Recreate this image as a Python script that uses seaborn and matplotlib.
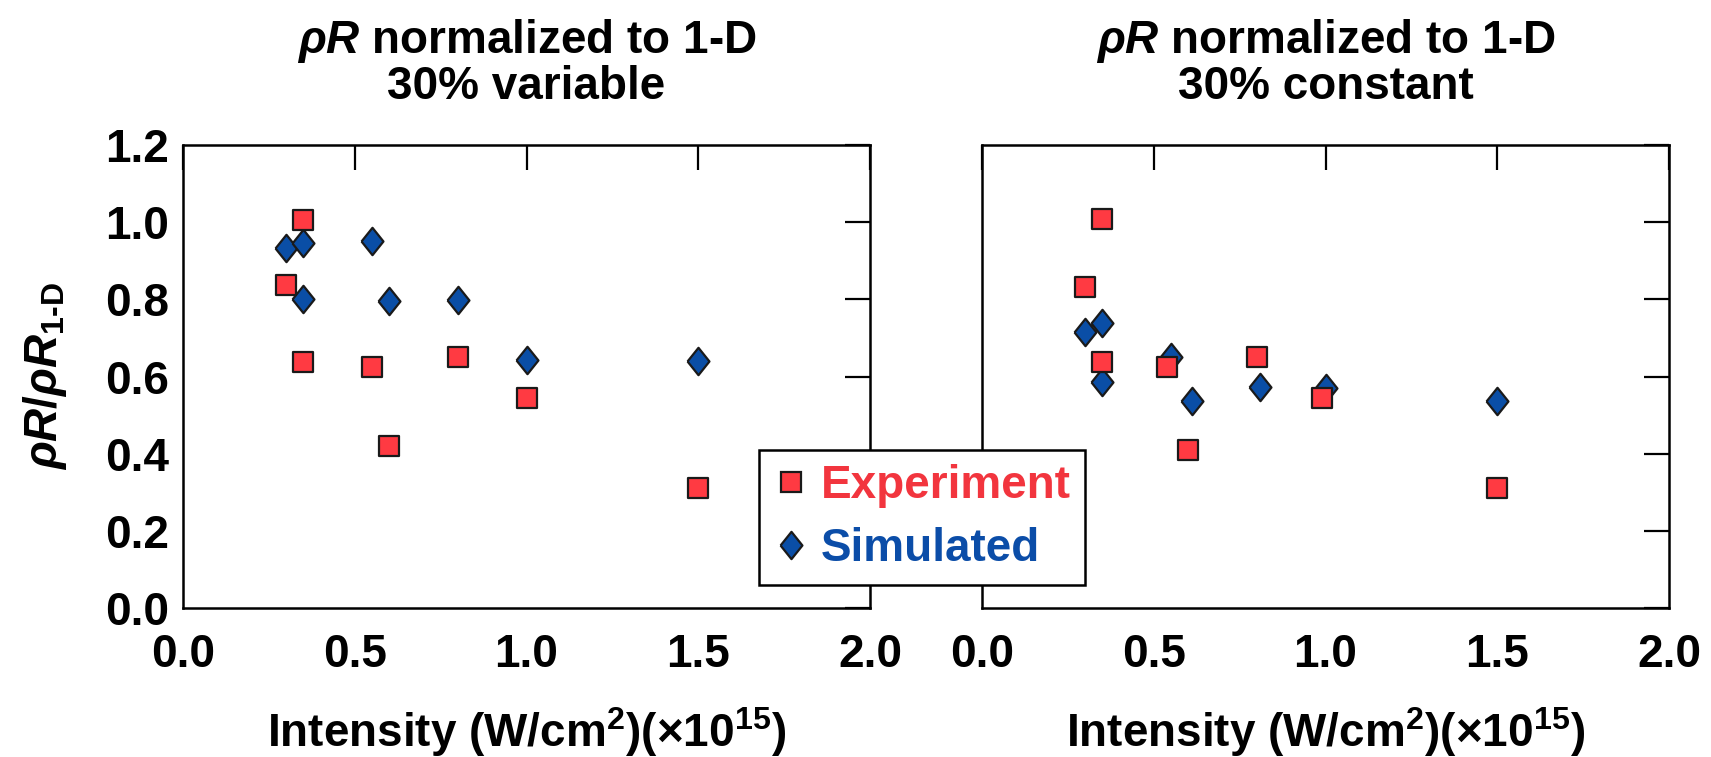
import numpy as np
import pandas as pd
import matplotlib
matplotlib.use("Agg")
import matplotlib.pyplot as plt
import seaborn as sns
from matplotlib.ticker import FormatStrFormatter
from matplotlib.lines import Line2D

# ---------------- data ----------------
panel_titles = [r"$\rho R$ normalized to 1-D" + "\n30% variable",
                r"$\rho R$ normalized to 1-D" + "\n30% constant"]

# left panel (30% variable)
var_exp_x = [0.30, 0.35, 0.35, 0.55, 0.60, 0.80, 1.00, 1.50]
var_exp_y = [0.837, 1.006, 0.638, 0.625, 0.421, 0.650, 0.543, 0.312]
var_sim_x = [0.30, 0.35, 0.35, 0.55, 0.60, 0.80, 1.00, 1.50]
var_sim_y = [0.932, 0.945, 0.800, 0.951, 0.795, 0.797, 0.643, 0.639]

# right panel (30% constant)
con_exp_x = [0.30, 0.35, 0.35, 0.54, 0.60, 0.80, 0.99, 1.50]
con_exp_y = [0.831, 1.008, 0.638, 0.625, 0.410, 0.651, 0.544, 0.312]
con_sim_x = [0.30, 0.35, 0.35, 0.55, 0.61, 0.81, 1.00, 1.50]
con_sim_y = [0.715, 0.738, 0.587, 0.651, 0.537, 0.572, 0.569, 0.537]

series_names = ["Experiment", "Simulated"]
x_ticks = [0.0, 0.5, 1.0, 1.5, 2.0]
y_ticks = [0.0, 0.2, 0.4, 0.6, 0.8, 1.0, 1.2]

# ---------------- style ----------------
sns.set_theme(style="white")
plt.rcParams["font.family"] = ["Liberation Sans", "DejaVu Sans"]
plt.rcParams["font.weight"] = "bold"
plt.rcParams["text.color"] = "black"
plt.rcParams["axes.labelcolor"] = "black"
plt.rcParams["xtick.color"] = "black"
plt.rcParams["ytick.color"] = "black"
plt.rcParams["mathtext.fontset"] = "custom"
plt.rcParams["mathtext.rm"] = "Liberation Sans:bold"
plt.rcParams["mathtext.bf"] = "Liberation Sans:bold"
plt.rcParams["mathtext.it"] = "Liberation Sans:italic"

RED = "#FF3A42"
RED_TXT = "#F2353E"
BLUE = "#0A4EA6"
BLUE_TXT = "#0B4DA8"
EDGE = "#1a1a1a"
FS = 33

diamond = [(-0.4, 0.0), (0.0, 0.5), (0.4, 0.0), (0.0, -0.5), (-0.4, 0.0)]

fig = plt.figure(figsize=(17.11, 7.57), dpi=100)
ax1 = fig.add_axes([183/1711, 1-608/757, 687/1711, 463/757])
ax2 = fig.add_axes([982/1711, 1-608/757, 687/1711, 463/757])

panels = [
    (ax1, var_exp_x, var_exp_y, var_sim_x, var_sim_y),
    (ax2, con_exp_x, con_exp_y, con_sim_x, con_sim_y),
]

for i, (ax, ex, ey, sx, sy) in enumerate(panels):
    df_sim = pd.DataFrame({"x": sx, "y": sy})
    df_exp = pd.DataFrame({"x": ex, "y": ey})
    sns.scatterplot(data=df_sim, x="x", y="y", ax=ax, marker=diamond, s=390,
                    color=BLUE, edgecolor=EDGE, linewidth=1.6,
                    label=series_names[1], zorder=3, legend=False)
    sns.scatterplot(data=df_exp, x="x", y="y", ax=ax, marker="s", s=205,
                    color=RED, edgecolor=EDGE, linewidth=1.6,
                    label=series_names[0], zorder=4, legend=False)
    ax.set_xlim(0, 2.0)
    ax.set_ylim(0, 1.2)
    ax.set_xticks(x_ticks)
    ax.set_yticks(y_ticks)
    ax.xaxis.set_major_formatter(FormatStrFormatter("%.1f"))
    ax.yaxis.set_major_formatter(FormatStrFormatter("%.1f"))
    ax.tick_params(axis="both", direction="in", length=18, width=1.6,
                   color="black", labelsize=FS, top=True, right=True,
                   labelcolor="black")
    ax.tick_params(axis="x", pad=18)
    ax.tick_params(axis="y", pad=10)
    for lab in ax.get_xticklabels() + ax.get_yticklabels():
        lab.set_fontweight("bold")
    for sp in ax.spines.values():
        sp.set_visible(True)
        sp.set_color("black")
        sp.set_linewidth(1.8)
    ax.set_title(panel_titles[i], fontsize=FS, fontweight="bold", pad=33,
                 linespacing=1.0, color="black")
    ax.set_xlabel("Intensity (W/cm$^{\\mathbf{2}}$)($\\times$10$^{\\mathbf{15}}$)",
                  fontsize=FS, fontweight="bold", labelpad=20, color="black")
    if i == 0:
        ax.set_ylabel(r"$\rho R/\rho R_{\mathbf{1\text{-}D}}$", fontsize=FS,
                      fontweight="bold", labelpad=26, color="black")
    else:
        ax.set_ylabel("")
        ax.tick_params(axis="y", labelleft=False)

# legend spanning both panels
handles = [
    Line2D([], [], linestyle="none", marker="s", markersize=14.3,
           markerfacecolor=RED, markeredgecolor=EDGE, markeredgewidth=1.6),
    Line2D([], [], linestyle="none", marker=diamond, markersize=19.7,
           markerfacecolor=BLUE, markeredgecolor=EDGE, markeredgewidth=1.6),
]
leg = fig.legend(handles, series_names, loc="upper left",
                 bbox_to_anchor=(759/1711, 1-450/757), fontsize=FS,
                 frameon=True, fancybox=False, shadow=False,
                 handlelength=0.8, handletextpad=0.25, borderpad=0.3,
                 labelspacing=0.42, borderaxespad=0)
leg.get_frame().set_edgecolor("black")
leg.get_frame().set_linewidth(1.8)
leg.get_frame().set_facecolor("white")
leg.get_frame().set_alpha(1.0)
for t, c in zip(leg.get_texts(), [RED_TXT, BLUE_TXT]):
    t.set_color(c)
    t.set_fontweight("bold")
leg.set_zorder(10)

fig.savefig("out.png", dpi=100)
